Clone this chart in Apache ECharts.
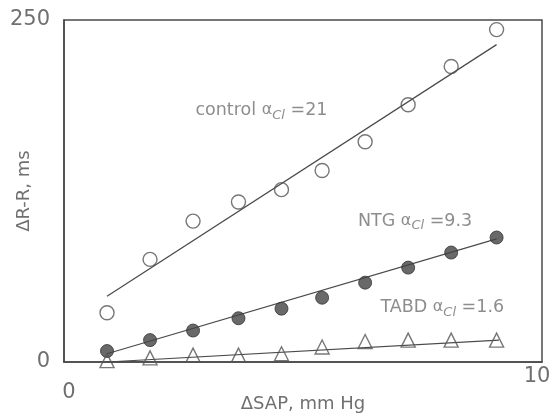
<!DOCTYPE html>
<html>
<head>
<meta charset="utf-8">
<script src="https://cdn.jsdelivr.net/npm/echarts@6/dist/echarts.min.js"></script>
<style>
  html, body { margin: 0; padding: 0; background: #fff; }
  #main { width: 552px; height: 416px; }
</style>
</head>
<body>
<div id="main"></div>
<script>
// values
var sap = [0.9, 1.8, 2.7, 3.65, 4.55, 5.4, 6.3, 7.2, 8.1, 9.05];
var control = [36, 75, 103, 117, 126, 140, 161, 188, 216, 243];
var ntg = [8, 16, 23, 32, 39, 47, 58, 69, 80, 91];
var tabd = [1, 3, 5, 5, 6, 11, 15, 16, 16, 16];

// regression lines, end points
var controlFit = [[0.9, 48], [9.05, 232]];
var ntgFit = [[0.9, 6], [9.05, 90]];
var tabdFit = [[0.9, 0], [9.1, 16]];

// annotations
var groups = ['control', 'NTG', 'TABD'];
var slopes = ['21', '9.3', '1.6'];
var labelAt = [[2.75, 184], [6.15, 103], [6.62, 40]];

var ink = '#4a4a4a';
var textGrey = '#707070';
var font = 'DejaVu Sans';

function pairs(xs, ys) {
  return xs.map(function (x, i) { return [x, ys[i]]; });
}

function fitLine(data) {
  return {
    type: 'line',
    data: data,
    symbol: 'none',
    silent: true,
    lineStyle: { color: ink, width: 1.2 },
    z: 1
  };
}

var chartDom = document.getElementById('main');
var myChart = echarts.init(chartDom);

var option = {
  animation: false,
  textStyle: { fontFamily: font },
  grid: {
    left: 64, right: 10, top: 20, bottom: 54,
    outerBoundsMode: 'none',
    containLabel: false,
    show: true,
    borderColor: ink,
    borderWidth: 1.5
  },
  xAxis: {
    type: 'value',
    min: 0, max: 10, interval: 10,
    name: 'ΔSAP, mm Hg',
    nameLocation: 'middle',
    nameGap: 33,
    nameMoveOverlap: false,
    nameTextStyle: { fontSize: 18, color: textGrey, fontFamily: font },
    axisLine: { show: true, lineStyle: { color: ink, width: 1.5 } },
    axisTick: { show: false },
    splitLine: { show: false },
    axisLabel: {
      fontSize: 21, color: textGrey, margin: 11, fontFamily: font,
      // first label sits lower and right of the corner, last one higher and left
      formatter: function (v) { return v === 0 ? '{l|' + v + '}' : '{r|' + v + '}'; },
      rich: {
        l: { fontSize: 21, color: textGrey, fontFamily: font, padding: [9, 0, 0, 10] },
        r: { fontSize: 21, color: textGrey, fontFamily: font, padding: [-7, 10, 0, 0] }
      }
    }
  },
  yAxis: {
    type: 'value',
    min: 0, max: 250, interval: 250,
    name: 'ΔR-R, ms',
    nameLocation: 'middle',
    nameGap: 31,
    nameMoveOverlap: false,
    nameTextStyle: { fontSize: 18, color: textGrey, fontFamily: font },
    axisLine: { show: true, lineStyle: { color: ink, width: 1.5 } },
    axisTick: { show: false },
    splitLine: { show: false },
    axisLabel: { fontSize: 21, color: textGrey, margin: 14, fontFamily: font }
  },
  series: [
    fitLine(controlFit),
    fitLine(ntgFit),
    fitLine(tabdFit),
    {
      name: 'control',
      type: 'scatter',
      data: pairs(sap, control),
      symbol: 'circle',
      symbolSize: 14,
      itemStyle: { color: 'rgba(0,0,0,0)', borderColor: '#555', borderWidth: 1.4 }
    },
    {
      name: 'NTG',
      type: 'scatter',
      data: pairs(sap, ntg),
      symbol: 'circle',
      symbolSize: 13,
      itemStyle: { color: '#444', borderColor: '#333', borderWidth: 1 }
    },
    {
      name: 'TABD',
      type: 'scatter',
      data: pairs(sap, tabd),
      symbol: 'triangle',
      symbolSize: 14,
      itemStyle: { color: 'rgba(0,0,0,0)', borderColor: '#555', borderWidth: 1.4 }
    },
    {
      // text annotations
      type: 'scatter',
      silent: true,
      symbolSize: 0,
      data: labelAt.map(function (p, i) { return { value: p, name: groups[i] }; }),
      label: {
        show: true,
        position: 'right',
        distance: 0,
        color: textGrey,
        fontSize: 17.5,
        fontFamily: font,
        formatter: function (p) {
          return p.name + ' {a|α}{sub|Cl} =' + slopes[p.dataIndex];
        },
        rich: {
          a: { fontSize: 16, color: textGrey, fontFamily: font },
          sub: { fontSize: 13, fontStyle: 'italic', color: textGrey, fontFamily: font, padding: [10, 0, 0, 0] }
        }
      }
    }
  ]
};

myChart.setOption(option);
</script>
</body>
</html>
